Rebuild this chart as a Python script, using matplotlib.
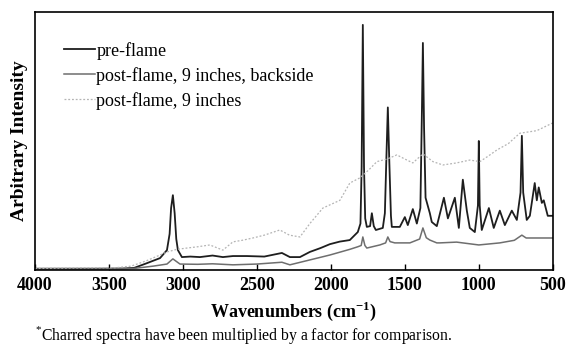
import matplotlib.pyplot as plt

plt.rcParams['font.family'] = ['Liberation Serif', 'DejaVu Serif']
plt.rcParams['mathtext.fontset'] = 'custom'
plt.rcParams['mathtext.rm'] = 'Liberation Serif'
plt.rcParams['mathtext.bf'] = 'Liberation Serif:bold'

# Spectra (wavenumber, arbitrary intensity)
pre_wn = [4000, 3600, 3400, 3330, 3250, 3155, 3108, 3090, 3080, 3068, 3056, 3045, 3034,
          3007, 2950, 2885, 2800, 2730, 2662, 2568, 2450, 2331, 2277, 2209, 2142,
          2070, 2007, 1940, 1872, 1818, 1800, 1792, 1784, 1776, 1768, 1757, 1735, 1723,
          1710, 1696, 1649, 1635, 1624, 1615, 1605, 1594, 1588, 1534, 1500, 1480, 1446,
          1419, 1395, 1385, 1378, 1370, 1360, 1331, 1318, 1284, 1236, 1209, 1162, 1135,
          1108, 1081, 1061, 1027, 1006, 1000, 994, 980, 932, 899, 858, 824, 777, 743,
          718, 709, 700, 676, 655, 622, 608, 595, 574, 561, 534, 500]
pre_int = [0.5, 0.5, 0.6, 0.8, 2.5, 4.6, 7.7, 14, 24, 29, 22, 12, 7.7,
           5.0, 5.2, 5.0, 5.6, 5.0, 5.4, 5.4, 5.2, 6.6, 5.0, 5.0, 7.0,
           8.5, 10, 11, 11.6, 14.7, 18, 40, 95, 40, 20, 16.7, 17, 22,
           17, 15.5, 16.3, 22, 45, 63, 42, 21, 16.7, 16.7, 20.5, 17.4, 23.6,
           18, 24, 60, 88, 55, 28, 22, 18.6, 17, 28, 20, 28, 16.3,
           35, 23, 16.3, 14.7, 25, 50, 25, 15.5, 24, 16.3, 23, 17.4, 23, 19.4,
           30, 52, 30, 19.4, 21, 33.7, 27, 32, 26, 27, 21, 21]

back_wn = [4000, 3600, 3400, 3330, 3200, 3108, 3068, 3020, 2900, 2800, 2662, 2500,
           2331, 2277, 2142, 2007, 1872, 1818, 1795, 1784, 1770, 1757, 1669, 1630,
           1615, 1600, 1568, 1466, 1400, 1378, 1355, 1331, 1284, 1264, 1150, 1000,
           858, 760, 709, 680, 655, 500]
back_int = [0.4, 0.4, 0.5, 0.6, 1.5, 2.3, 4.3, 2.3, 2.2, 2.4, 2.0, 2.3,
            3.0, 2.0, 3.9, 5.8, 8.0, 9.0, 9.5, 12.8, 9.5, 8.5, 9.7, 10.5,
            12.8, 11, 10.5, 10.5, 12, 16.3, 12.5, 11.6, 10.5, 10.5, 10.8, 9.7,
            10.5, 11.5, 13.5, 12.4, 12.4, 12.4]

char_wn = [4000, 3700, 3450, 3350, 3250, 3155, 3108, 3040, 2973, 2900, 2818, 2730, 2662,
           2600, 2527, 2450, 2345, 2280, 2209, 2142, 2054, 1939, 1872, 1804, 1740,
           1689, 1620, 1554, 1500, 1446, 1378, 1310, 1243, 1150, 1061, 993, 940,
           878, 800, 723, 608, 500]
char_int = [0.6, 0.8, 0.9, 1.5, 3.5, 5.8, 7.0, 8.0, 8.5, 9.0, 9.7, 7.7, 10.9,
            11.5, 12.4, 13.5, 15.5, 13.5, 12.8, 18, 24, 27, 33.7, 35.7, 39,
            42, 43, 44.6, 43, 41.5, 45, 42, 40.7, 41.5, 42.6, 42, 44,
            46.5, 49, 53, 54, 57]

fig = plt.figure(figsize=(5.69, 3.52), dpi=100)
ax = fig.add_axes([0.0615, 0.233, 0.910, 0.733])

ax.plot(pre_wn, pre_int, color='#1e1e1e', lw=1.3, label='pre-flame')
ax.plot(back_wn, back_int, color='#6e6e6e', lw=1.1, label='post-flame, 9 inches, backside')
ax.plot(char_wn, char_int, color='#b4b4b4', lw=0.9, linestyle=(0, (1.5, 1.5)),
        label='post-flame, 9 inches')

ax.set_xlim(4000, 500)
ax.set_ylim(0, 100)
ax.set_xticks([4000, 3500, 3000, 2500, 2000, 1500, 1000, 500])
ax.set_yticks([])
ax.tick_params(axis='x', direction='in', length=4, width=1, pad=5)
for lab in ax.get_xticklabels():
    lab.set_fontsize(13)
    lab.set_fontweight('bold')
for s in ax.spines.values():
    s.set_linewidth(1.2)

ax.set_xlabel(r'Wavenumbers (cm$^{\mathbf{-1}}$)', fontsize=13, fontweight='bold', labelpad=4)
ax.set_ylabel('Arbitrary Intensity', fontsize=14, fontweight='bold', labelpad=5)

ax.legend(loc='upper left', bbox_to_anchor=(0.056, 0.885), frameon=False, fontsize=13,
          handlelength=1.7, handletextpad=0.1, labelspacing=0.4, borderpad=0,
          borderaxespad=0)

fig.text(0.062, 0.035, r'$^{*}$Charred spectra have been multiplied by a factor for comparison.',
         fontsize=11.3)

fig.savefig('out.png', dpi=100)
